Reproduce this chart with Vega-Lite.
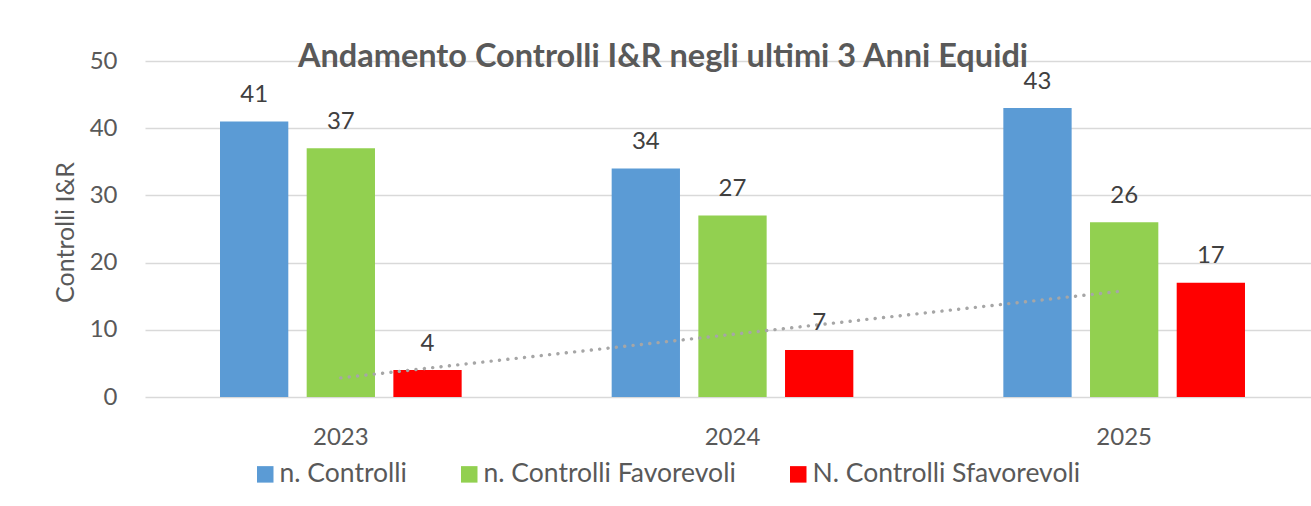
{
  "$schema": "https://vega.github.io/schema/vega-lite/v6.json",
  "autosize": {"type": "none"},
  "width": 1166,
  "height": 336,
  "padding": {"left": 145, "top": 61, "right": 0, "bottom": 109},
  "background": "white",
  "datasets": {
    "bars": [
      {"anno": "2023", "serie": "n. Controlli", "valore": 41},
      {"anno": "2023", "serie": "n. Controlli Favorevoli", "valore": 37},
      {"anno": "2023", "serie": "N. Controlli Sfavorevoli", "valore": 4},
      {"anno": "2024", "serie": "n. Controlli", "valore": 34},
      {"anno": "2024", "serie": "n. Controlli Favorevoli", "valore": 27},
      {"anno": "2024", "serie": "N. Controlli Sfavorevoli", "valore": 7},
      {"anno": "2025", "serie": "n. Controlli", "valore": 43},
      {"anno": "2025", "serie": "n. Controlli Favorevoli", "valore": 26},
      {"anno": "2025", "serie": "N. Controlli Sfavorevoli", "valore": 17}
    ],
    "trend": [
      {"anno": "2023", "tendenza": 2.85},
      {"anno": "2025", "tendenza": 15.8}
    ]
  },
  "title": {
    "text": "Andamento Controlli I&R negli ultimi 3 Anni Equidi",
    "frame": "group",
    "anchor": "middle",
    "dx": -65,
    "offset": -50,
    "baseline": "alphabetic",
    "fontSize": 32.5,
    "fontWeight": "bold",
    "color": "#595959",
    "font": "Lato"
  },
  "encoding": {
    "x": {
      "field": "anno",
      "type": "nominal",
      "scale": {"range": [0, 1175], "paddingInner": 0.383, "paddingOuter": 0.1915},
      "axis": {
        "title": null,
        "labelAngle": 0,
        "labelFontSize": 24,
        "labelColor": "#595959",
        "labelBaseline": "alphabetic",
        "labelPadding": 47,
        "domain": false,
        "ticks": false,
        "grid": false
      }
    }
  },
  "layer": [
    {
      "data": {"name": "bars"},
      "mark": {"type": "bar"},
      "encoding": {
        "xOffset": {
          "field": "serie",
          "type": "nominal",
          "scale": {"domain": ["n. Controlli", "n. Controlli Favorevoli", "N. Controlli Sfavorevoli"], "paddingInner": 0.212, "paddingOuter": 0}
        },
        "y": {
          "field": "valore",
          "type": "quantitative",
          "scale": {"domain": [0, 50], "nice": false},
          "axis": {
            "values": [0, 10, 20, 30, 40, 50],
            "title": "Controlli I&R",
            "titleFontSize": 25,
            "titleFontWeight": "normal",
            "titleColor": "#595959",
            "titleBaseline": "alphabetic",
            "titleX": -72,
            "titleY": 171,
            "labelFontSize": 24,
            "labelColor": "#595959",
            "labelPadding": 28,
            "domain": false,
            "ticks": false,
            "grid": true,
            "gridColor": "#D9D9D9",
            "gridWidth": 1.4
          }
        },
        "color": {
          "field": "serie",
          "type": "nominal",
          "scale": {
            "domain": ["n. Controlli", "n. Controlli Favorevoli", "N. Controlli Sfavorevoli"],
            "range": ["#5B9BD5", "#92D050", "#FF0000"]
          },
          "legend": {
            "title": null,
            "orient": "none",
            "direction": "horizontal",
            "legendX": 107,
            "legendY": 400,
            "symbolType": "square",
            "symbolSize": 272,
            "symbolStrokeWidth": 0,
            "symbolOpacity": 1,
            "labelFontSize": 26.5,
            "labelColor": "#595959",
            "labelOffset": 1,
            "columnPadding": 49,
            "padding": 0,
            "labelLimit": 500
          }
        }
      }
    },
    {
      "data": {"name": "trend"},
      "mark": {"type": "line", "color": "#A6A6A6", "strokeWidth": 3.4, "strokeDash": [0.1, 8.3], "strokeCap": "round"},
      "encoding": {
        "y": {"field": "tendenza", "type": "quantitative"}
      }
    },
    {
      "data": {"name": "bars"},
      "mark": {"type": "text", "baseline": "alphabetic", "dy": -19.5, "fontSize": 24, "color": "#404040"},
      "encoding": {
        "xOffset": {
          "field": "serie",
          "type": "nominal",
          "scale": {"domain": ["n. Controlli", "n. Controlli Favorevoli", "N. Controlli Sfavorevoli"], "paddingInner": 0.212, "paddingOuter": 0}
        },
        "y": {"field": "valore", "type": "quantitative"},
        "text": {"field": "valore", "type": "quantitative"}
      }
    }
  ],
  "config": {
    "font": "Lato",
    "view": {"stroke": null}
  }
}
